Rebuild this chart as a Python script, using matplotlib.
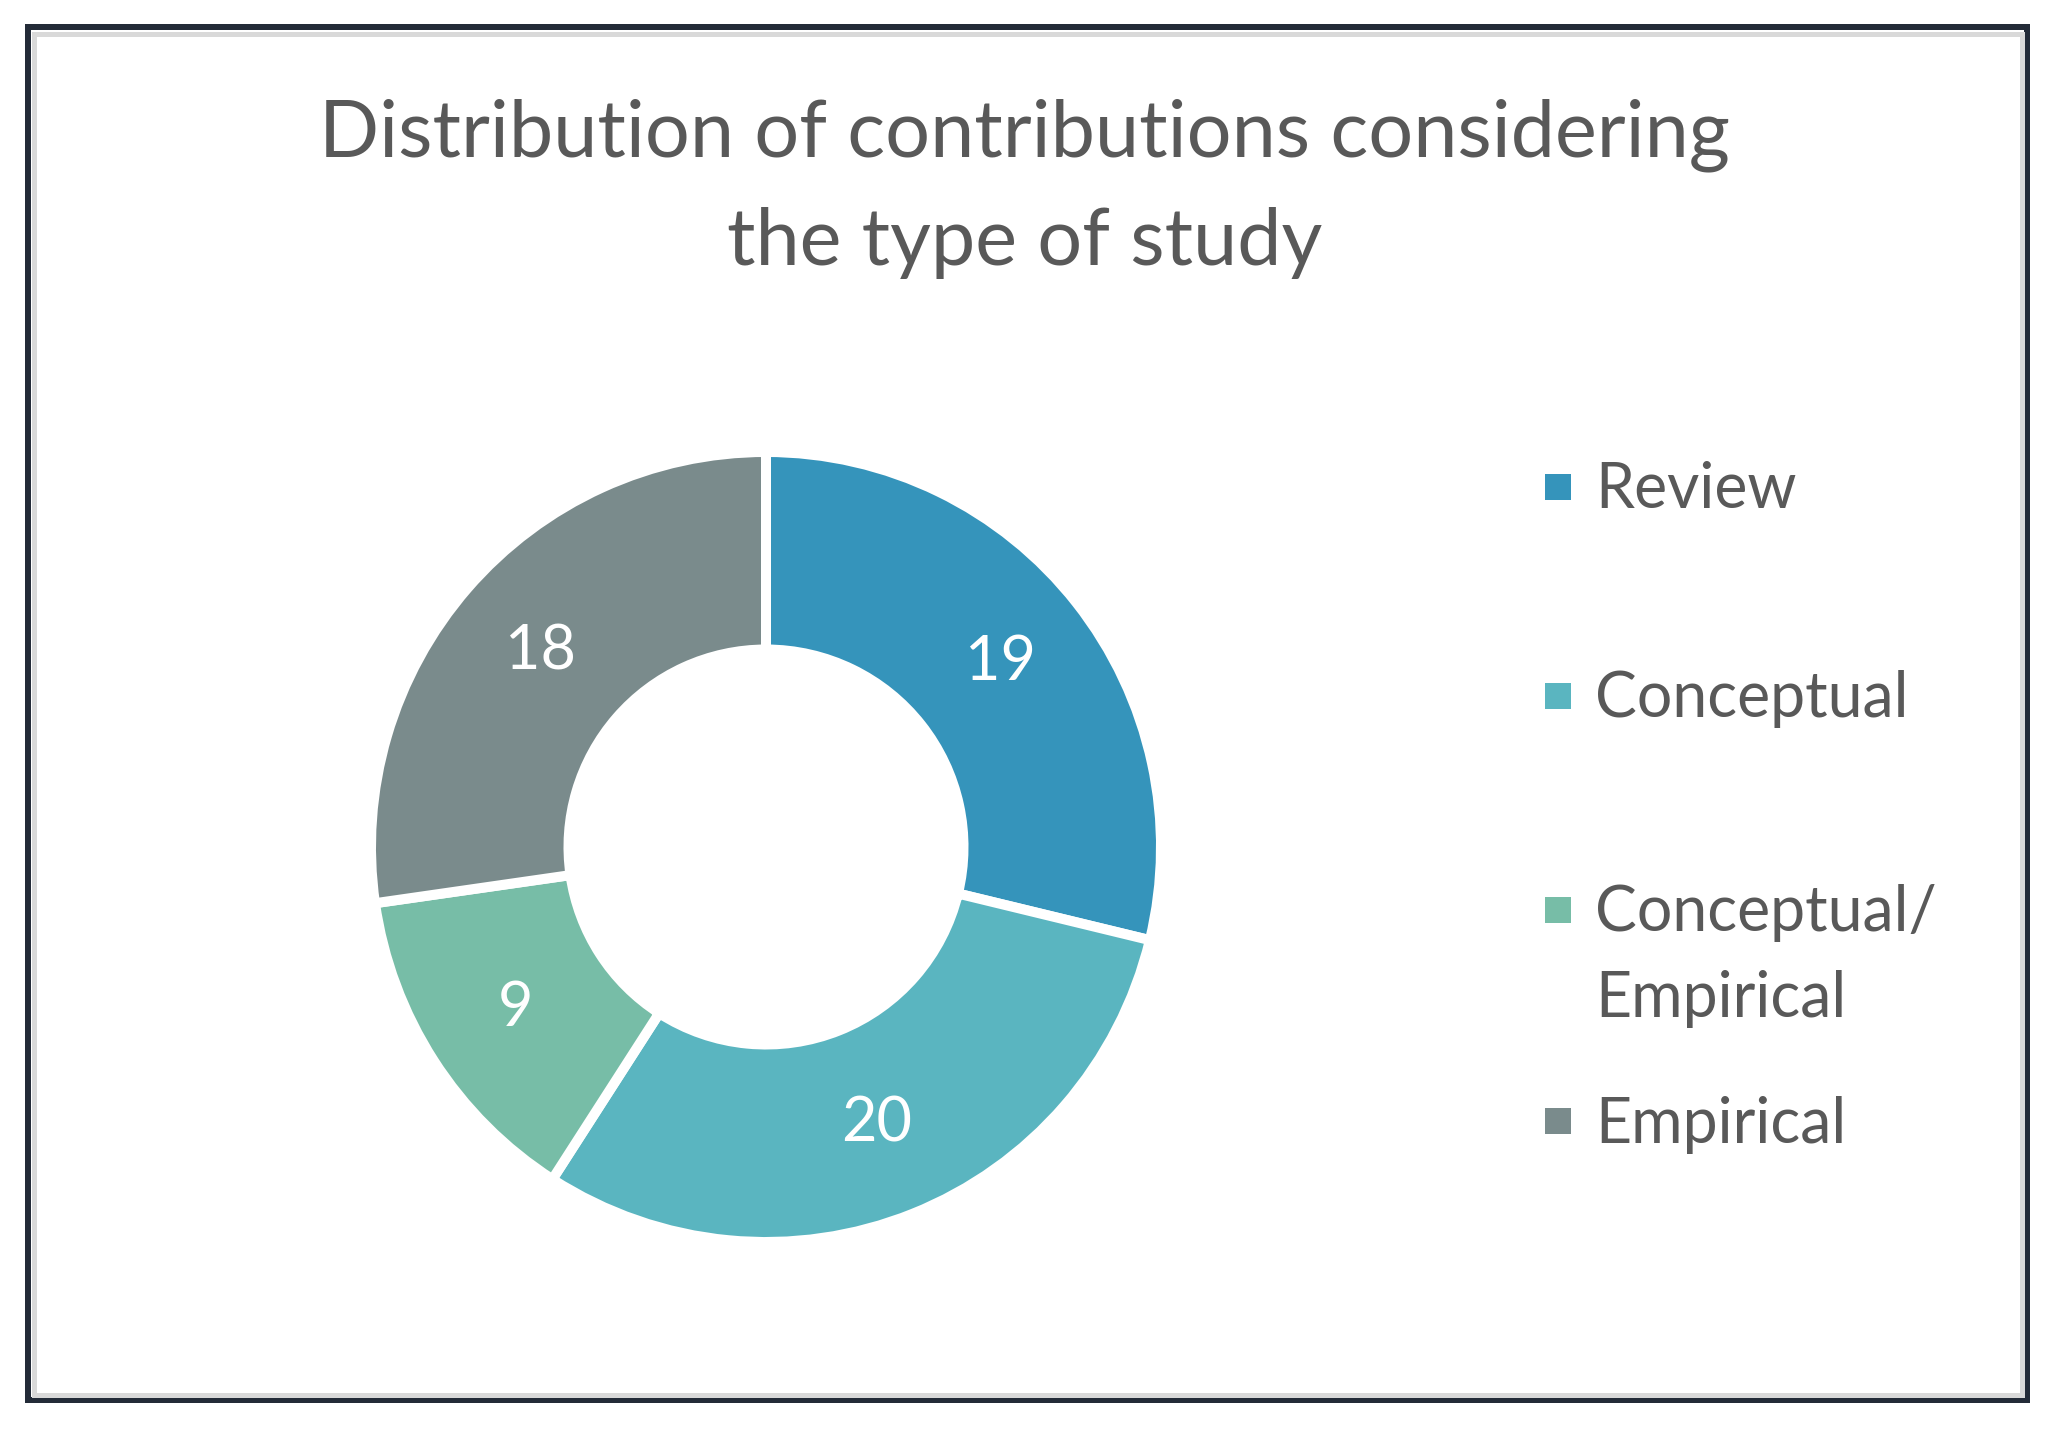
import matplotlib
matplotlib.use("Agg")
import matplotlib.pyplot as plt
from matplotlib.patches import Rectangle

# ---- data ----
categories = ["Review", "Conceptual", "Conceptual/\nEmpirical", "Empirical"]
values = [19, 20, 9, 18]
colors = ["#3594BB", "#5AB5C0", "#77BDA7", "#7A8B8C"]
title_lines = ["Distribution of contributions considering", "the type of study"]

W, H = 2055, 1434
DPI = 100
plt.rcParams['font.family'] = ['Lato', 'DejaVu Sans']
TXT = "#595959"
FW = "normal"

fig = plt.figure(figsize=(W / DPI, H / DPI), dpi=DPI)
fig.patch.set_facecolor("white")

def fx(x):
    return x / W

def fy(y_top):
    return 1 - y_top / H

# borders
fig.patches.append(Rectangle((fx(28), fy(1400)), fx(2027) - fx(28), fy(27) - fy(1400),
                             transform=fig.transFigure, fill=False,
                             edgecolor="#232B38", linewidth=6 * 0.72, zorder=0))
fig.patches.append(Rectangle((fx(33.5), fy(1395)), fx(2022) - fx(33.5), fy(33.5) - fy(1395),
                             transform=fig.transFigure, fill=False,
                             edgecolor="#D9D9D9", linewidth=5 * 0.72, zorder=0))

# title
fig.text(0.4985, fy(156), title_lines[0], ha="center", va="baseline",
         fontsize=57, color=TXT, fontweight=FW)
fig.text(0.4985, fy(265), title_lines[1], ha="center", va="baseline",
         fontsize=57, color=TXT, fontweight=FW)

# donut
cx, cy, R = 766, 847, 395
ax = fig.add_axes([fx(cx - R), fy(cy + R), 2 * R / W, 2 * R / H])
total = sum(values)
wedges, texts, autotexts = ax.pie(
    values, colors=colors, startangle=90, counterclock=False, radius=1,
    wedgeprops=dict(width=0.5, edgecolor="white", linewidth=7.2),
    autopct=lambda p: f"{round(p * total / 100)}", pctdistance=0.755,
    textprops=dict(color="white", fontsize=44, fontweight=FW))
ax.set_xlim(-1, 1)
ax.set_ylim(-1, 1)
ax.axis("off")

# legend
row_y = [487, 696, 910, 1121]
sq = 26
for cat, col, yy in zip(categories, colors, row_y):
    fig.patches.append(Rectangle((fx(1545), fy(yy + sq / 2)), sq / W, sq / H,
                                 transform=fig.transFigure, facecolor=col,
                                 edgecolor="none"))
    for i, line in enumerate(cat.split("\n")):
        fig.text(fx(1595), fy(yy + 21.5 + 86 * i), line, ha="left", va="baseline",
                 fontsize=45, color=TXT, fontweight=FW)

fig.savefig("out.png", dpi=DPI)
